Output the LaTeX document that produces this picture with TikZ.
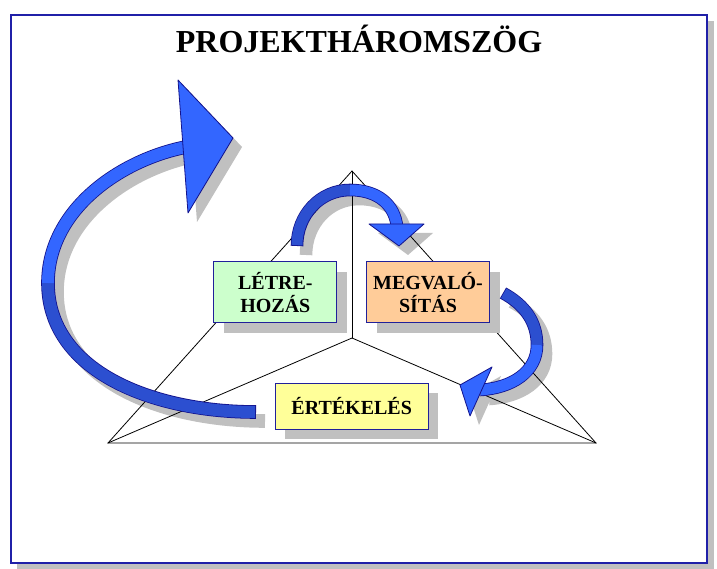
\documentclass[tikz,border=0pt]{standalone}
\usepackage{fontspec}
\setmainfont{Liberation Serif}
\usetikzlibrary{shadows}
\definecolor{frameblue}{HTML}{2020A8}
\definecolor{boxline}{HTML}{20209A}
\definecolor{arrowline}{HTML}{12128C}
\definecolor{arrowlight}{HTML}{3366FF}
\definecolor{arrowdark}{HTML}{2C4FD0}
\definecolor{shadowgrey}{HTML}{C0C0C0}
\definecolor{greenfill}{HTML}{CCFFCC}
\definecolor{orangefill}{HTML}{FFCC99}
\definecolor{yellowfill}{HTML}{FFFF99}

\begin{document}
\begin{tikzpicture}[x=1pt, y=-1pt,
    stage/.style = {draw=boxline, line width=1pt, align=center, minimum height=61pt,
        font=\fontsize{20}{23}\selectfont\bfseries,
        drop shadow={fill=shadowgrey, opacity=1, shadow xshift=10pt, shadow yshift=-10pt}},
    edge/.style = {line width=0.8pt},
    outline/.style = {draw=arrowline, line width=#1+1.6pt},
    light/.style = {draw=arrowlight, line width=#1, shorten <=0.8pt},
    dark/.style = {draw=arrowdark, line width=#1, shorten <=0.8pt},
    head/.style = {fill=arrowlight, draw=arrowline, line width=0.8pt, line join=round},
    shade/.style = {draw=shadowgrey, line width=#1+1.6pt}]
    \useasboundingbox (0,0) rectangle (717,569);
    % frame
    \fill[shadowgrey] (17,21) rectangle (714,569);
    \draw[frameblue, line width=2.5pt, fill=white] (11,15) rectangle (707,563);
    \node[anchor=base, font=\fontsize{32}{38}\selectfont\bfseries] (title) at (359,53) {PROJEKTHÁROMSZÖG};

    % points of the triangle
    \coordinate (apex) at (352,171);
    \coordinate (bl) at (108,443);
    \coordinate (br) at (596,443);
    \coordinate (mid) at (352,338);

    % points of the arrows
    \coordinate (bigtail) at (256,412);
    \coordinate (bigside) at (48,283);
    \coordinate (bigneck) at (186,147);
    \coordinate (toptail) at (297,246);
    \coordinate (toptop) at (350,190);
    \coordinate (topneck) at (397,227);
    \coordinate (rtail) at (503,293);
    \coordinate (rside) at (537,345);
    \coordinate (rneck) at (480,390);

    % arrow shadows
    \begin{scope}[transform canvas={shift={(9pt,-9pt)}}]
        \draw[shade=12pt] (bigtail) .. controls (150,412) and (48,370) .. (bigside)
            .. controls (48,210) and (120,160) .. (bigneck);
        \fill[shadowgrey] (178,80) -- (233,138) -- (188,213) -- cycle;
        \draw[shade=11pt] (toptail) .. controls (297,215) and (320,190) .. (toptop)
            .. controls (378,190) and (395,205) .. (topneck);
        \fill[shadowgrey] (369,224) -- (424,224) -- (399,246) -- cycle;
        \draw[shade=11pt] (rtail) .. controls (525,305) and (537,322) .. (rside)
            .. controls (537,372) and (512,388) .. (rneck);
        \fill[shadowgrey] (492,367) -- (460,385) -- (470,416) -- cycle;
    \end{scope}

    % triangle
    \draw[edge] (apex) -- (bl) -- (br) -- cycle;
    \draw[edge] (mid) -- (apex);
    \draw[edge] (mid) -- (bl);
    \draw[edge] (mid) -- (br);

    % stages
    \node[stage, fill=greenfill, minimum width=123pt] (create) at (275.3,292.2) {LÉTRE-\\HOZÁS};
    \node[stage, fill=orangefill, minimum width=123pt] (realize) at (428,292.2) {MEGVALÓ-\\SÍTÁS};
    \node[stage, fill=yellowfill, minimum width=153pt, minimum height=46pt] (assess) at (351.7,406.3) {ÉRTÉKELÉS};

    % big arrow
    \draw[outline=12pt] (bigtail) .. controls (150,412) and (48,370) .. (bigside)
        .. controls (48,210) and (120,160) .. (bigneck);
    \draw[dark=12pt] (bigtail) .. controls (150,412) and (48,370) .. (bigside);
    \draw[light=12pt, shorten <=0pt] (bigside) .. controls (48,210) and (120,160) .. (bigneck);
    \draw[head] (178,80) -- (233,138) -- (188,213) -- cycle;

    % top arrow
    \draw[outline=11pt] (toptail) .. controls (297,215) and (320,190) .. (toptop)
        .. controls (378,190) and (395,205) .. (topneck);
    \draw[dark=11pt] (toptail) .. controls (297,215) and (320,190) .. (toptop);
    \draw[light=11pt, shorten <=0pt] (toptop) .. controls (378,190) and (395,205) .. (topneck);
    \draw[head] (369,224) -- (424,224) -- (399,246) -- cycle;

    % right arrow
    \draw[outline=11pt] (rtail) .. controls (525,305) and (537,322) .. (rside)
        .. controls (537,372) and (512,388) .. (rneck);
    \draw[dark=11pt] (rtail) .. controls (525,305) and (537,322) .. (rside);
    \draw[light=11pt, shorten <=0pt] (rside) .. controls (537,372) and (512,388) .. (rneck);
    \draw[head] (492,367) -- (460,385) -- (470,416) -- cycle;
\end{tikzpicture}
\end{document}
